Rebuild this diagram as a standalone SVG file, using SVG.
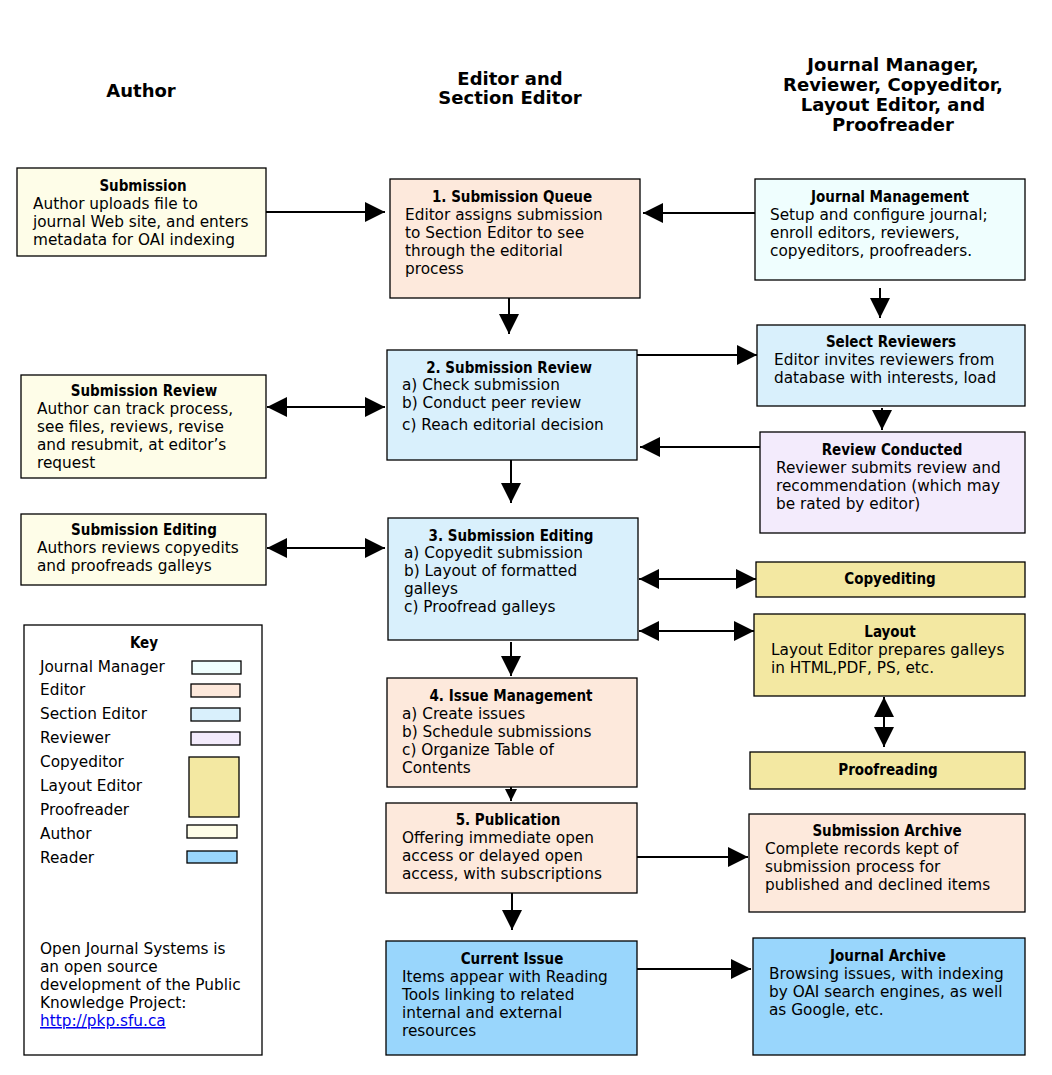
<svg xmlns="http://www.w3.org/2000/svg" width="1052" height="1075" viewBox="0 0 1052 1075">
<style>
text{font-family:"DejaVu Sans","Liberation Sans",sans-serif;fill:#000}
.h{font-size:18px;font-weight:bold;text-anchor:middle}
.t{font-family:"DejaVu Sans Condensed","DejaVu Sans",sans-serif;font-stretch:condensed;font-size:15px;font-weight:bold;text-anchor:middle}
.b{font-size:15.3px}
.box{stroke:#000;stroke-width:1.3}
.au{fill:#fefde8}
.ed{fill:#fde9dc}
.se{fill:#d9f0fc}
.jm{fill:#effefe}
.rv{fill:#f3ebfc}
.ce{fill:#f3e8a2}
.rd{fill:#99d6fc}
.c{stroke:#000;stroke-width:2;fill:none}
</style>
<defs>
<marker id="ah" viewBox="0 0 20 20" refX="20" refY="10" markerWidth="20" markerHeight="20" markerUnits="userSpaceOnUse" orient="auto-start-reverse">
<path d="M0,0 L20,10 L0,20 z" fill="#000"/>
</marker>
<marker id="as" viewBox="0 0 12 12" refX="12" refY="6" markerWidth="12" markerHeight="12" markerUnits="userSpaceOnUse" orient="auto">
<path d="M0,0 L12,6 L0,12 z" fill="#000"/>
</marker>
</defs>
<rect width="1052" height="1075" fill="#fff"/>
<g id="headers">
<text class="h" x="141" y="97">Author</text>
<text class="h" x="510" y="85">Editor and</text>
<text class="h" x="510" y="104">Section Editor</text>
<text class="h" x="893" y="71">Journal Manager,</text>
<text class="h" x="893" y="91">Reviewer, Copyeditor,</text>
<text class="h" x="893" y="111">Layout Editor, and</text>
<text class="h" x="893" y="131">Proofreader</text>
</g>
<g id="connectors">
<path class="c" d="M266,212 H385" marker-end="url(#ah)"/>
<path class="c" d="M755,213 H643" marker-end="url(#ah)"/>
<path class="c" d="M509,298 V334" marker-end="url(#ah)"/>
<path class="c" d="M880,288 V318" marker-end="url(#ah)"/>
<path class="c" d="M637,355 H757" marker-end="url(#ah)"/>
<path class="c" d="M882,408 V430" marker-end="url(#ah)"/>
<path class="c" d="M760,447 H640" marker-end="url(#ah)"/>
<path class="c" d="M267,407 H385" marker-start="url(#ah)" marker-end="url(#ah)"/>
<path class="c" d="M511,460 V503" marker-end="url(#ah)"/>
<path class="c" d="M267,548 H385" marker-start="url(#ah)" marker-end="url(#ah)"/>
<path class="c" d="M639,579 H756" marker-start="url(#ah)" marker-end="url(#ah)"/>
<path class="c" d="M639,631 H754" marker-start="url(#ah)" marker-end="url(#ah)"/>
<path class="c" d="M884,697 V747" marker-start="url(#ah)" marker-end="url(#ah)"/>
<path class="c" d="M511,642 V676" marker-end="url(#ah)"/>
<path class="c" d="M511,787 V801" marker-end="url(#as)"/>
<path class="c" d="M637,857 H748" marker-end="url(#ah)"/>
<path class="c" d="M512,893 V930" marker-end="url(#ah)"/>
<path class="c" d="M637,969 H751" marker-end="url(#ah)"/>
</g>
<g id="submission">
<rect class="box au" x="17" y="168" width="249" height="88"/>
<text class="t" x="143" y="191">Submission</text>
<text class="b" x="33" y="209">Author uploads file to</text>
<text class="b" x="33" y="227">journal Web site, and enters</text>
<text class="b" x="33" y="245">metadata for OAI indexing</text>
</g>
<g id="submission-queue">
<rect class="box ed" x="390" y="179" width="250" height="119"/>
<text class="t" x="512" y="202">1. Submission Queue</text>
<text class="b" x="405" y="220">Editor assigns submission</text>
<text class="b" x="405" y="238">to Section Editor to see</text>
<text class="b" x="405" y="256">through the editorial</text>
<text class="b" x="405" y="274">process</text>
</g>
<g id="journal-management">
<rect class="box jm" x="755" y="179" width="270" height="101"/>
<text class="t" x="890" y="202">Journal Management</text>
<text class="b" x="770" y="220">Setup and configure journal;</text>
<text class="b" x="770" y="238">enroll editors, reviewers,</text>
<text class="b" x="770" y="256">copyeditors, proofreaders.</text>
</g>
<g id="select-reviewers">
<rect class="box se" x="757" y="325" width="268" height="81"/>
<text class="t" x="891" y="347">Select Reviewers</text>
<text class="b" x="774" y="365">Editor invites reviewers from</text>
<text class="b" x="774" y="383">database with interests, load</text>
</g>
<g id="review-conducted">
<rect class="box rv" x="760" y="432" width="265" height="101"/>
<text class="t" x="892" y="455">Review Conducted</text>
<text class="b" x="776" y="473">Reviewer submits review and</text>
<text class="b" x="776" y="491">recommendation (which may</text>
<text class="b" x="776" y="509">be rated by editor)</text>
</g>
<g id="submission-review">
<rect class="box se" x="387" y="350" width="250" height="110"/>
<text class="t" x="509" y="373">2. Submission Review</text>
<text class="b" x="402" y="390">a) Check submission</text>
<text class="b" x="402" y="408">b) Conduct peer review</text>
<text class="b" x="402" y="430">c) Reach editorial decision</text>
</g>
<g id="author-submission-review">
<rect class="box au" x="21" y="375" width="245" height="103"/>
<text class="t" x="144" y="396">Submission Review</text>
<text class="b" x="37" y="414">Author can track process,</text>
<text class="b" x="37" y="432">see files, reviews, revise</text>
<text class="b" x="37" y="450">and resubmit, at editor’s</text>
<text class="b" x="37" y="468">request</text>
</g>
<g id="submission-editing">
<rect class="box se" x="388" y="518" width="250" height="122"/>
<text class="t" x="511" y="541">3. Submission Editing</text>
<text class="b" x="404" y="558">a) Copyedit submission</text>
<text class="b" x="404" y="576">b) Layout of formatted</text>
<text class="b" x="404" y="594">galleys</text>
<text class="b" x="404" y="612">c) Proofread galleys</text>
</g>
<g id="author-submission-editing">
<rect class="box au" x="21" y="514" width="245" height="71"/>
<text class="t" x="144" y="535">Submission Editing</text>
<text class="b" x="37" y="553">Authors reviews copyedits</text>
<text class="b" x="37" y="571">and proofreads galleys</text>
</g>
<g id="copyediting">
<rect class="box ce" x="756" y="562" width="269" height="35"/>
<text class="t" x="890" y="584">Copyediting</text>
</g>
<g id="layout">
<rect class="box ce" x="754" y="614" width="271" height="82"/>
<text class="t" x="890" y="637">Layout</text>
<text class="b" x="771" y="655">Layout Editor prepares galleys</text>
<text class="b" x="771" y="673">in HTML,PDF, PS, etc.</text>
</g>
<g id="proofreading">
<rect class="box ce" x="750" y="752" width="275" height="37"/>
<text class="t" x="888" y="775">Proofreading</text>
</g>
<g id="issue-management">
<rect class="box ed" x="387" y="678" width="250" height="109"/>
<text class="t" x="511" y="701">4. Issue Management</text>
<text class="b" x="402" y="719">a) Create issues</text>
<text class="b" x="402" y="737">b) Schedule submissions</text>
<text class="b" x="402" y="755">c) Organize Table of</text>
<text class="b" x="402" y="773">Contents</text>
</g>
<g id="publication">
<rect class="box ed" x="386" y="803" width="251" height="90"/>
<text class="t" x="508" y="825">5. Publication</text>
<text class="b" x="402" y="843">Offering immediate open</text>
<text class="b" x="402" y="861">access or delayed open</text>
<text class="b" x="402" y="879">access, with subscriptions</text>
</g>
<g id="submission-archive">
<rect class="box ed" x="749" y="814" width="276" height="98"/>
<text class="t" x="887" y="836">Submission Archive</text>
<text class="b" x="765" y="854">Complete records kept of</text>
<text class="b" x="765" y="872">submission process for</text>
<text class="b" x="765" y="890">published and declined items</text>
</g>
<g id="current-issue">
<rect class="box rd" x="386" y="941" width="251" height="114"/>
<text class="t" x="512" y="964">Current Issue</text>
<text class="b" x="402" y="982">Items appear with Reading</text>
<text class="b" x="402" y="1000">Tools linking to related</text>
<text class="b" x="402" y="1018">internal and external</text>
<text class="b" x="402" y="1036">resources</text>
</g>
<g id="journal-archive">
<rect class="box rd" x="753" y="938" width="272" height="117"/>
<text class="t" x="888" y="961">Journal Archive</text>
<text class="b" x="769" y="979">Browsing issues, with indexing</text>
<text class="b" x="769" y="997">by OAI search engines, as well</text>
<text class="b" x="769" y="1015">as Google, etc.</text>
</g>
<g id="key">
<rect class="box" fill="#fff" x="24" y="625" width="238" height="430"/>
<text class="t" x="144" y="648">Key</text>
<text class="b" x="40" y="672">Journal Manager</text>
<text class="b" x="40" y="695">Editor</text>
<text class="b" x="40" y="719">Section Editor</text>
<text class="b" x="40" y="743">Reviewer</text>
<text class="b" x="40" y="767">Copyeditor</text>
<text class="b" x="40" y="791">Layout Editor</text>
<text class="b" x="40" y="815">Proofreader</text>
<text class="b" x="40" y="839">Author</text>
<text class="b" x="40" y="863">Reader</text>
<rect class="box jm" x="192" y="661" width="49" height="13"/>
<rect class="box ed" x="191" y="684" width="49" height="13"/>
<rect class="box se" x="191" y="708" width="49" height="13"/>
<rect class="box rv" x="191" y="732" width="49" height="13"/>
<rect class="box ce" x="189" y="757" width="50" height="60"/>
<rect class="box au" x="187" y="825" width="50" height="13"/>
<rect class="box rd" x="187" y="851" width="50" height="12"/>
<text class="b" x="40" y="954">Open Journal Systems is</text>
<text class="b" x="40" y="972">an open source</text>
<text class="b" x="40" y="990">development of the Public</text>
<text class="b" x="40" y="1008">Knowledge Project:</text>
<text class="b" x="40" y="1026" style="fill:#0000ee;text-decoration:underline">http://pkp.sfu.ca</text>
</g>
</svg>
